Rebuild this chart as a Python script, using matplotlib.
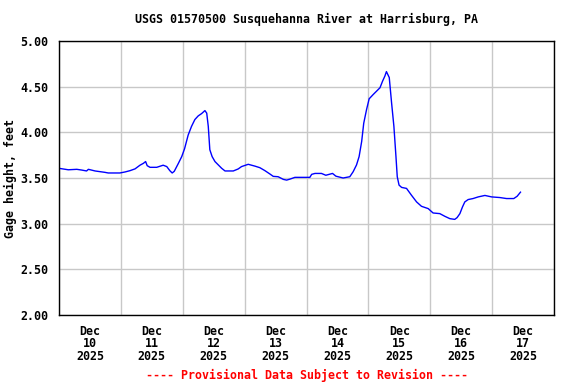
import matplotlib
matplotlib.use("Agg")
import matplotlib.pyplot as plt
import numpy as np

# Hours since Dec 10 2025 00:00
hours = [0, 3.6, 6.9, 8.8, 10.7, 11.4, 14.0, 17.8, 19.1, 23.6, 25.6, 27.5, 29.5, 31.4,
         32.7, 33.6, 34.2, 35.3, 37.9, 40.4, 41.8, 43.0, 43.9, 44.7, 46.3, 47.6, 48.7,
         50.1, 51.4, 52.7, 54.0, 55.3, 56.6, 57.3, 57.9, 58.5, 59.4, 60.5, 61.8, 63.1,
         64.4, 67.6, 69.5, 70.8, 73.4, 76.0, 77.9, 79.9, 81.8, 83.1, 85.0, 87.0, 88.3,
         89.6, 91.5, 97.3, 98.0, 99.3, 101.8, 103.5, 106.1, 107.4, 110.2, 112.8, 114.1,
         115.4, 116.4, 117.4, 118.2, 119.3, 120.3, 121.9, 124.5, 125.5, 126.4, 127.0,
         128.1, 129.0, 129.9, 130.7, 131.2, 131.9, 132.9, 134.8, 136.7, 138.7, 140.6,
         143.2, 145.1, 147.7, 149.7, 151.6, 153.5, 154.4, 155.5, 156.5, 157.4, 158.7,
         160.6, 162.6, 165.2, 167.8, 171.0, 173.6, 176.4, 177.7, 179.0]
gage_ft = [3.606, 3.59, 3.595, 3.587, 3.577, 3.595, 3.577, 3.562, 3.555, 3.555, 3.566,
           3.58, 3.60, 3.64, 3.66, 3.68, 3.635, 3.617, 3.617, 3.64, 3.625, 3.58, 3.555,
           3.573, 3.66, 3.734, 3.82, 3.97, 4.065, 4.14, 4.18, 4.205, 4.238, 4.21, 4.065,
           3.81, 3.734, 3.68, 3.643, 3.606, 3.577, 3.577, 3.599, 3.625, 3.65, 3.63, 3.613,
           3.58, 3.544, 3.518, 3.514, 3.485, 3.477, 3.488, 3.507, 3.507, 3.54, 3.55, 3.55,
           3.53, 3.55, 3.52, 3.50, 3.514, 3.569, 3.643, 3.734, 3.90, 4.10, 4.25, 4.367,
           4.415, 4.488, 4.56, 4.616, 4.665, 4.60, 4.323, 4.065, 3.734, 3.514, 3.422,
           3.397, 3.386, 3.312, 3.238, 3.19, 3.165, 3.117, 3.11, 3.08, 3.055, 3.047,
           3.066, 3.11, 3.183, 3.238, 3.264, 3.275, 3.293, 3.309, 3.293, 3.286, 3.275,
           3.275, 3.30, 3.345]

day_labels = ["Dec\n10\n2025", "Dec\n11\n2025", "Dec\n12\n2025", "Dec\n13\n2025",
              "Dec\n14\n2025", "Dec\n15\n2025", "Dec\n16\n2025", "Dec\n17\n2025"]
y_ticks = [2.00, 2.50, 3.00, 3.50, 4.00, 4.50, 5.00]

title = "USGS 01570500 Susquehanna River at Harrisburg, PA"
ylabel = "Gage height, feet"
footer = "---- Provisional Data Subject to Revision ----"

mono = ["DejaVu Sans Mono"]

fig = plt.figure(figsize=(5.76, 3.84), dpi=100)
ax = fig.add_axes([59/576, 1-315/384, (554-59)/576, 274/384])

ax.plot(hours, gage_ft, color="#0000ff", lw=1.0)

ax.set_xlim(0, 192)
ax.set_ylim(2.0, 5.0)

ax.set_xticks(np.arange(0, 193, 24))
ax.set_xticklabels([])
ax.set_xticks(np.arange(12, 192, 24), minor=True)
ax.set_xticklabels(day_labels, minor=True, fontfamily=mono, fontweight="bold",
                   fontsize=8.4, linespacing=0.95)
ax.tick_params(axis="x", which="both", length=0, pad=7)

ax.set_yticks(y_ticks)
ax.set_yticklabels([f"{v:.2f}" for v in y_ticks], fontfamily=mono, fontweight="bold",
                   fontsize=8.4)
ax.tick_params(axis="y", length=0, pad=8)

ax.grid(True, which="major", color="#c8c8c8", lw=1.0)
ax.set_axisbelow(True)
for s in ax.spines.values():
    s.set_color("black")
    s.set_linewidth(1.0)

ax.set_ylabel(ylabel, fontfamily=mono, fontweight="bold", fontsize=8.4)
ax.yaxis.set_label_coords((17 - 59) / 495, 0.5)

fig.text((59+554)/2/576, 1-19/384, title, ha="center", va="center",
         fontfamily=mono, fontweight="bold", fontsize=8.4)
fig.text((59+554)/2/576, 1-375/384, footer, ha="center", va="center",
         fontfamily=mono, fontweight="bold", fontsize=8.4, color="#ff0000")

fig.savefig("out.png", dpi=100)
